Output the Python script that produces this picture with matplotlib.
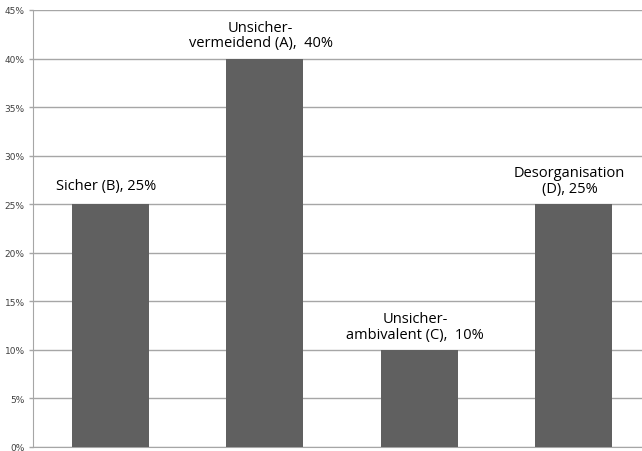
import matplotlib.pyplot as plt
from matplotlib.ticker import FuncFormatter

categories = ["Sicher (B), 25%", "Unsicher-\nvermeidend (A),  40%",
              "Unsicher-\nambivalent (C),  10%", "Desorganisation\n(D), 25%"]
values = [25, 40, 10, 25]
yticks = [0, 5, 10, 15, 20, 25, 30, 35, 40, 45]

fig = plt.figure(figsize=(6.42, 4.52), dpi=100)
# the axes run a little past the right edge, like the cropped original
ax = fig.add_axes([33 / 642, 4 / 452, 618 / 642, 437 / 452])

x = range(len(values))
ax.bar(x, values, width=0.5, color='#606060', zorder=3)

for xi, v, lab in zip(x, values, categories):
    off = 8 if '\n' not in lab else 6
    ax.annotate(lab, (xi, v), xytext=(-3, off), textcoords='offset points',
                ha='center', va='bottom', fontsize=10.5, family='Open Sans',
                color='black', linespacing=1.05)

ax.set_xlim(-0.5, 3.5)
ax.set_ylim(0, 45)
ax.set_yticks(yticks)
ax.yaxis.set_major_formatter(FuncFormatter(lambda v, p: f"{v:.0f}%"))
ax.set_xticks([])
ax.grid(axis='y', color='#a6a6a6', linewidth=1, zorder=0)
ax.tick_params(axis='y', labelsize=6.5, colors='#404040', length=3, width=1,
               color='#a6a6a6', pad=3)
for s in ['top', 'right']:
    ax.spines[s].set_visible(False)
for s in ['left', 'bottom']:
    ax.spines[s].set_color('#a6a6a6')

plt.savefig('out.png', dpi=100)
